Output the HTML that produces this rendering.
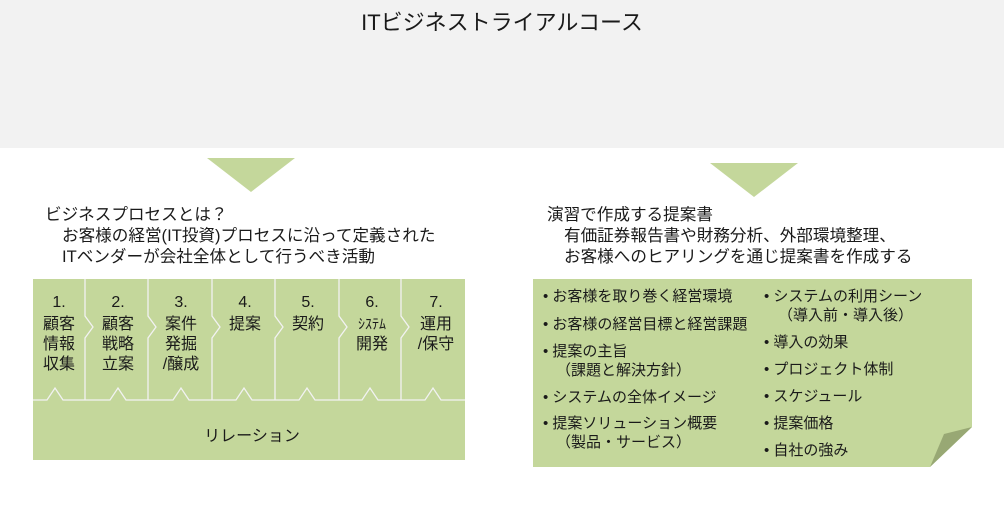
<!DOCTYPE html>
<html><head><meta charset="utf-8"><style>
html,body{margin:0;padding:0;background:#fff;}
svg text{font-family:"Liberation Sans","Noto Sans CJK JP",sans-serif;fill:#1a1a1a;}
</style></head><body>
<svg width="1004" height="503" xmlns="http://www.w3.org/2000/svg">
<rect x="0" y="0" width="1004" height="148" fill="#f2f2f2"/>
<text x="502" y="30" font-size="22" text-anchor="middle">ITビジネストライアルコース</text>
<polygon points="207,158 295,158 251,192" fill="#c4d79b"/>
<polygon points="710,163 798,163 754,197" fill="#c4d79b"/>
<g font-size="16.6">
<text x="45" y="220">ビジネスプロセスとは？</text>
<text x="62" y="241">お客様の経営(IT投資)プロセスに沿って定義された</text>
<text x="62" y="262">ITベンダーが会社全体として行うべき活動</text>
<text x="547" y="220">演習で作成する提案書</text>
<text x="564" y="241">有価証券報告書や財務分析、外部環境整理、</text>
<text x="564" y="262">お客様へのヒアリングを通じ提案書を作成する</text>
</g>
<rect x="33" y="279" width="432" height="181" fill="#c4d79b"/>
<g stroke="#f2f2f2" stroke-width="1.3" fill="none">
<polyline points="85,279 85,316 93,327 85,338 85,400"/>
<polyline points="148,279 148,316 156,327 148,338 148,400"/>
<polyline points="212,279 212,316 220,327 212,338 212,400"/>
<polyline points="275,279 275,316 283,327 275,338 275,400"/>
<polyline points="339,279 339,316 347,327 339,338 339,400"/>
<polyline points="401,279 401,316 409,327 401,338 401,400"/>
<polyline points="33,400 47,400 55,388 63,400 110,400 118,388 126,400 173,400 181,388 189,400 236,400 244,388 252,400 299,400 307,388 315,400 362,400 370,388 378,400 425,400 433,388 441,400 465,400"/>
</g>
<g font-size="16" text-anchor="middle">
<text x="59" y="307">1.</text><text x="59" y="329">顧客</text><text x="59" y="349">情報</text><text x="59" y="369">収集</text>
<text x="118" y="307">2.</text><text x="118" y="329">顧客</text><text x="118" y="349">戦略</text><text x="118" y="369">立案</text>
<text x="181" y="307">3.</text><text x="181" y="329">案件</text><text x="181" y="349">発掘</text><text x="181" y="369">/醸成</text>
<text x="245" y="307">4.</text><text x="245" y="329">提案</text>
<text x="308" y="307">5.</text><text x="308" y="329">契約</text>
<text x="372" y="307">6.</text><text x="372" y="329" font-size="14">ｼｽﾃﾑ</text><text x="372" y="349">開発</text>
<text x="436" y="307">7.</text><text x="436" y="329">運用</text><text x="436" y="349">/保守</text>
<text x="252" y="441">リレーション</text>
</g>
<polygon points="533,279 972,279 972,427 930,467 533,467" fill="#c4d79b"/>
<polygon points="972,427 944,434 930,467" fill="#98a874"/>
<g font-size="15">
<text x="543" y="301">• お客様を取り巻く経営環境</text>
<text x="543" y="329">• お客様の経営目標と経営課題</text>
<text x="543" y="356">• 提案の主旨</text>
<text x="556" y="375">（課題と解決方針）</text>
<text x="543" y="402">• システムの全体イメージ</text>
<text x="543" y="428">• 提案ソリューション概要</text>
<text x="556" y="447">（製品・サービス）</text>
<text x="764" y="301">• システムの利用シーン</text>
<text x="778" y="320">（導入前・導入後）</text>
<text x="764" y="347">• 導入の効果</text>
<text x="764" y="374">• プロジェクト体制</text>
<text x="764" y="401">• スケジュール</text>
<text x="764" y="428">• 提案価格</text>
<text x="764" y="455">• 自社の強み</text>
</g>
</svg>
</body></html>
